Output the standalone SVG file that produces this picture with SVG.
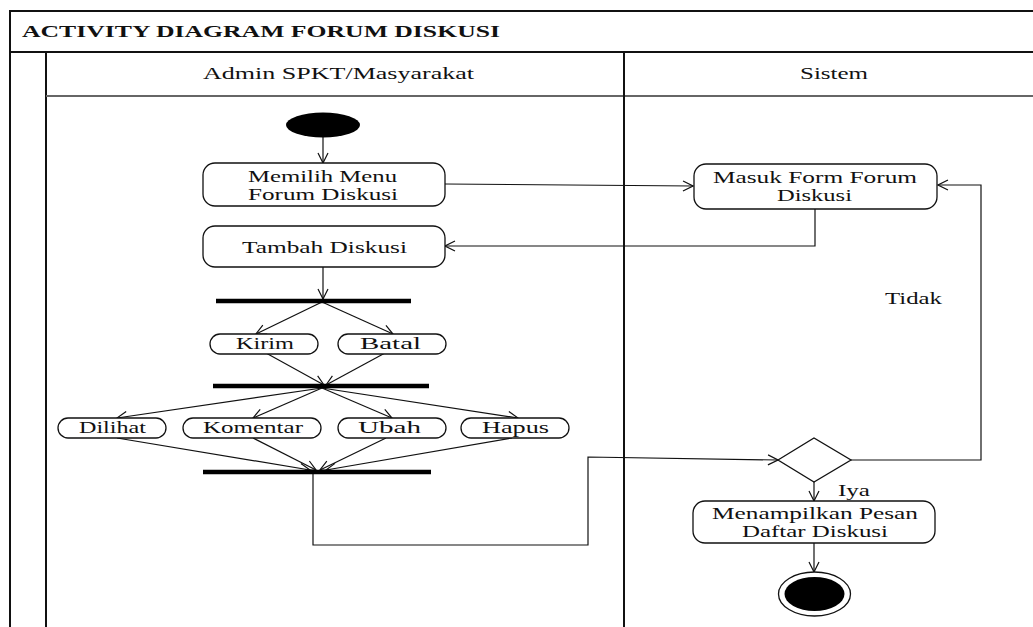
<svg xmlns="http://www.w3.org/2000/svg" width="1033" height="627" viewBox="0 0 1033 627">
  <style>
    .frame { stroke: #111; stroke-width: 2; fill: none; }
    .sep { stroke: #666; stroke-width: 2; fill: none; }
    .act { fill: #fff; stroke: #111; stroke-width: 1.3; }
    .bar { stroke: #000; stroke-width: 4.5; }
    .edge { stroke: #111; stroke-width: 1.2; fill: none; }
    text { font-family: "Liberation Serif", "Times New Roman", serif; font-size: 16.5px; fill: #111; }
    .title { font-weight: bold; font-size: 17.5px; }
  </style>
  <defs>
    <marker id="arrow" viewBox="0 0 12 12" refX="11" refY="6" markerWidth="12" markerHeight="12" markerUnits="userSpaceOnUse" orient="auto">
      <path d="M1,1 L11,6 L1,11" fill="none" stroke="#111" stroke-width="1.2"/>
    </marker>
  </defs>

  <!-- frame and swimlanes -->
  <g id="frame">
    <line class="frame" x1="10" y1="11" x2="1033" y2="11"/>
    <line class="frame" x1="10" y1="10" x2="10" y2="627"/>
    <line class="frame" x1="10" y1="52" x2="1033" y2="52"/>
    <line class="frame" x1="46" y1="52" x2="46" y2="627"/>
    <line class="sep" x1="46" y1="96" x2="1033" y2="96"/>
    <line class="frame" x1="624" y1="52" x2="624" y2="627"/>
    <text class="title" x="22" y="37" textLength="478" lengthAdjust="spacingAndGlyphs">ACTIVITY DIAGRAM FORUM DISKUSI</text>
    <text x="203" y="79" textLength="271" lengthAdjust="spacingAndGlyphs">Admin SPKT/Masyarakat</text>
    <text x="800" y="79" textLength="68" lengthAdjust="spacingAndGlyphs">Sistem</text>
  </g>

  <!-- connectors -->
  <g id="connectors">
    <line class="edge" x1="323" y1="137" x2="323" y2="163" marker-end="url(#arrow)"/>
    <line class="edge" x1="445" y1="184" x2="693" y2="186" marker-end="url(#arrow)"/>
    <polyline class="edge" points="815,209 815,246 445,246" marker-end="url(#arrow)"/>
    <line class="edge" x1="323" y1="267" x2="323" y2="299" marker-end="url(#arrow)"/>
    <line class="edge" x1="322" y1="302" x2="256" y2="334" marker-end="url(#arrow)"/>
    <line class="edge" x1="322" y1="302" x2="393" y2="334" marker-end="url(#arrow)"/>
    <line class="edge" x1="266" y1="353" x2="324" y2="385" marker-end="url(#arrow)"/>
    <line class="edge" x1="385" y1="353" x2="326" y2="385" marker-end="url(#arrow)"/>
    <line class="edge" x1="322" y1="388" x2="117" y2="418" marker-end="url(#arrow)"/>
    <line class="edge" x1="322" y1="388" x2="253" y2="418" marker-end="url(#arrow)"/>
    <line class="edge" x1="322" y1="388" x2="392" y2="418" marker-end="url(#arrow)"/>
    <line class="edge" x1="322" y1="388" x2="518" y2="418" marker-end="url(#arrow)"/>
    <line class="edge" x1="117" y1="438" x2="310" y2="470" marker-end="url(#arrow)"/>
    <line class="edge" x1="253" y1="438" x2="316" y2="470" marker-end="url(#arrow)"/>
    <line class="edge" x1="386" y1="438" x2="320" y2="470" marker-end="url(#arrow)"/>
    <line class="edge" x1="512" y1="438" x2="326" y2="470" marker-end="url(#arrow)"/>
    <polyline class="edge" points="313,472 313,545 588,545 588,457 778,460" marker-end="url(#arrow)"/>
    <polyline class="edge" points="851,460 981,460 981,185 938,185" marker-end="url(#arrow)"/>
    <line class="edge" x1="814" y1="482" x2="814" y2="501" marker-end="url(#arrow)"/>
    <line class="edge" x1="814" y1="543" x2="814" y2="572" marker-end="url(#arrow)"/>
    <text x="885" y="304" textLength="57" lengthAdjust="spacingAndGlyphs">Tidak</text>
    <text x="838" y="496" textLength="32" lengthAdjust="spacingAndGlyphs">Iya</text>
  </g>

  <!-- start -->
  <g id="start">
    <ellipse cx="323" cy="125" rx="37" ry="12.5" fill="#000"/>
  </g>

  <g id="memilih-menu">
    <rect class="act" x="203" y="163" width="242" height="43" rx="12"/>
    <text x="248" y="182" textLength="149" lengthAdjust="spacingAndGlyphs">Memilih Menu</text>
    <text x="248" y="200" textLength="150" lengthAdjust="spacingAndGlyphs">Forum Diskusi</text>
  </g>

  <g id="tambah-diskusi">
    <rect class="act" x="203" y="226" width="242" height="41" rx="12"/>
    <text x="242" y="253" textLength="165" lengthAdjust="spacingAndGlyphs">Tambah Diskusi</text>
  </g>

  <g id="fork-1">
    <line class="bar" x1="216" y1="301" x2="411" y2="301"/>
  </g>

  <g id="kirim">
    <rect class="act" x="210" y="334" width="108" height="20" rx="10"/>
    <text x="236" y="349" textLength="58" lengthAdjust="spacingAndGlyphs">Kirim</text>
  </g>
  <g id="batal">
    <rect class="act" x="338" y="334" width="108" height="20" rx="10"/>
    <text x="360" y="349" textLength="61" lengthAdjust="spacingAndGlyphs">Batal</text>
  </g>

  <g id="fork-2">
    <line class="bar" x1="213" y1="386" x2="429" y2="386"/>
  </g>

  <g id="dilihat">
    <rect class="act" x="58" y="418" width="108" height="20" rx="10"/>
    <text x="79" y="433" textLength="67" lengthAdjust="spacingAndGlyphs">Dilihat</text>
  </g>
  <g id="komentar">
    <rect class="act" x="183" y="418" width="138" height="20" rx="10"/>
    <text x="203" y="433" textLength="100" lengthAdjust="spacingAndGlyphs">Komentar</text>
  </g>
  <g id="ubah">
    <rect class="act" x="338" y="418" width="108" height="20" rx="10"/>
    <text x="358" y="433" textLength="63" lengthAdjust="spacingAndGlyphs">Ubah</text>
  </g>
  <g id="hapus">
    <rect class="act" x="461" y="418" width="108" height="20" rx="10"/>
    <text x="482" y="433" textLength="67" lengthAdjust="spacingAndGlyphs">Hapus</text>
  </g>

  <g id="join">
    <line class="bar" x1="203" y1="472" x2="431" y2="472"/>
  </g>

  <g id="masuk-form">
    <rect class="act" x="694" y="164" width="243" height="45" rx="12"/>
    <text x="713" y="183" textLength="204" lengthAdjust="spacingAndGlyphs">Masuk Form Forum</text>
    <text x="777" y="201" textLength="75" lengthAdjust="spacingAndGlyphs">Diskusi</text>
  </g>

  <g id="decision">
    <polygon points="778,460 814,438 851,460 814,482" fill="#fff" stroke="#111" stroke-width="1.3"/>
  </g>

  <g id="menampilkan-pesan">
    <rect class="act" x="693" y="501" width="242" height="42" rx="12"/>
    <text x="712" y="519" textLength="206" lengthAdjust="spacingAndGlyphs">Menampilkan Pesan</text>
    <text x="742" y="537" textLength="146" lengthAdjust="spacingAndGlyphs">Daftar Diskusi</text>
  </g>

  <g id="end">
    <ellipse cx="814.5" cy="594" rx="36" ry="22" fill="#fff" stroke="#111" stroke-width="1.3"/>
    <ellipse cx="814.5" cy="594" rx="30" ry="17" fill="#000"/>
  </g>
</svg>
